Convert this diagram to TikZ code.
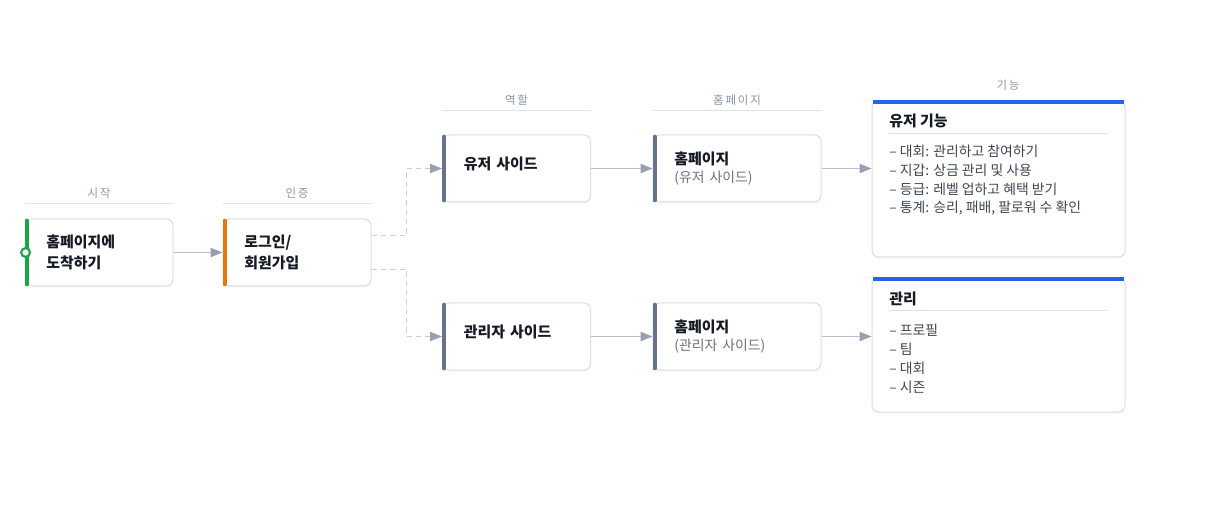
\documentclass[tikz,border=0pt]{standalone}
\usepackage{fontspec}
\setmainfont{Noto Sans CJK KR}
\newfontfamily\hdrfont{Noto Sans CJK KR}[LetterSpace=16]
\usetikzlibrary{arrows.meta,shadows}

\definecolor{startgreen}{HTML}{1FA34A}
\definecolor{loginorange}{HTML}{E07A0C}
\definecolor{rolegray}{HTML}{667389}
\definecolor{panelblue}{HTML}{2563EB}
\definecolor{boxline}{HTML}{D8DDE7}
\definecolor{linkgray}{HTML}{B9C0CC}
\definecolor{tipgray}{HTML}{97A0B0}
\definecolor{dashgray}{HTML}{C9CED8}
\definecolor{hdrtext}{HTML}{8C95A3}
\definecolor{hdrrule}{HTML}{E0E4EB}
\definecolor{titletext}{HTML}{151A24}
\definecolor{subtext}{HTML}{6B7280}
\definecolor{itemtext}{HTML}{3F4652}

\begin{document}
\begin{tikzpicture}[x=0.75pt,y=-0.75pt,
  box/.style={draw=boxline,fill=white,rounded corners=5pt,line width=0.75pt,
    minimum height=50.25pt,inner xsep=16pt,align=left,text=titletext,
    font=\fontsize{11.2}{15.75}\selectfont\bfseries,
    drop shadow={shadow xshift=0pt,shadow yshift=-1.2pt,opacity=0.06}},
  panel/.style={draw=boxline,fill=white,rounded corners=5pt,line width=0.75pt,
    minimum width=189.75pt,inner sep=0pt,
    drop shadow={shadow xshift=0pt,shadow yshift=-1.2pt,opacity=0.06}},
  accent/.style={line width=3pt,line cap=round},
  hdr/.style={text=hdrtext,font=\hdrfont\fontsize{8.6}{10}\selectfont,inner sep=1pt},
  hdrline/.style={draw=hdrrule,line width=0.75pt},
  ptitle/.style={anchor=west,inner sep=0pt,text=titletext,font=\fontsize{11.2}{12}\selectfont\bfseries},
  item/.style={anchor=west,inner sep=0pt,text=itemtext,font=\fontsize{10.4}{12}\selectfont},
  link/.style={draw=linkgray,line width=0.75pt,-{Triangle[length=9pt,width=7pt,color=tipgray]}},
  dashlink/.style={link,draw=dashgray,dash pattern=on 4pt off 3pt}]
  \useasboundingbox (0,0) rectangle (1222,506);

  % flow boxes
  \node[box,text width=79pt] (start) at (99,252.5) {홈페이지에\\도착하기};
  \node[box,text width=79pt] (login) at (297,252.5) {로그인/\\회원가입};
  \node[box,text width=79pt,text depth=7.5pt] (user) at (516.5,168.5) {유저 사이드};
  \node[box,text width=79pt,text depth=7.5pt] (admin) at (516.5,336.5) {관리자 사이드};
  \node[box,text width=94pt,font=\fontsize{11.2}{13.5}\selectfont] (userhome) at (737,168.5)
    {\textbf{홈페이지}\\{\color{subtext}\fontsize{10.4}{13.5}\selectfont(유저 사이드)}};
  \node[box,text width=94pt,font=\fontsize{11.2}{13.5}\selectfont] (adminhome) at (737,336.5)
    {\textbf{홈페이지}\\{\color{subtext}\fontsize{10.4}{13.5}\selectfont(관리자 사이드)}};

  % coloured left edges
  \foreach \b/\c in {start/startgreen,login/loginorange,user/rolegray,admin/rolegray,userhome/rolegray,adminhome/rolegray}
    \draw[accent,\c] ([shift={(1.5pt,-1.6pt)}]\b.north west) -- ([shift={(1.5pt,1.6pt)}]\b.south west);
  \node[circle,draw=startgreen,line width=1.6pt,fill=white,minimum size=6.6pt,inner sep=0pt] (startdot) at ([xshift=0.8pt]start.west) {};

  % column headers
  \foreach \b/\t/\s in {start/시작/11.25,login/인증/11.25,user/역할/18,userhome/홈페이지/18}
    \draw[hdrline] ([yshift=\s pt]\b.north west) -- ([yshift=\s pt]\b.north east)
      node[hdr,midway,above=2.5pt] (hdr-\b) {\t};
  \node[hdr] (hdr-func) at (1008,85) {기능};

  % feature panels
  \node[panel,minimum height=117pt] (ufunc) at (998.5,179) {};
  \node[panel,minimum height=100.5pt] (afunc) at (998.5,345) {};
  \foreach \p in {ufunc,afunc}
    \draw[accent,panelblue,line cap=butt,rounded corners=2pt] ([shift={(1pt,-1.5pt)}]\p.north west) -- ([shift={(-1pt,-1.5pt)}]\p.north east);

  \node[ptitle] (ufunc-title) at (889,121) {유저 기능};
  \draw[hdrline] (889,134) -- (1108,134);
  \foreach \t [count=\i] in {{– 대회: 관리하고 참여하기},{– 지갑: 상금 관리 및 사용},{– 등급: 레벨 업하고 혜택 받기},{– 통계: 승리, 패배, 팔로워 수 확인}}
    \node[item] (ufunc-\i) at (889,132+19*\i) {\t};

  \node[ptitle] (afunc-title) at (889,299) {관리};
  \draw[hdrline] (889,311) -- (1108,311);
  \foreach \t [count=\i] in {– 프로필,– 팀,– 대회,– 시즌}
    \node[item] (afunc-\i) at (889,311+19*\i) {\t};

  % connectors
  \draw[link] (start) -- (login);
  \draw[dashlink] ([yshift=12.4pt]login.east) -- ++(35,0) |- (user.west);
  \draw[dashlink] ([yshift=-12.4pt]login.east) -- ++(35,0) |- (admin.west);
  \draw[link] (user) -- (userhome);
  \draw[link] (admin) -- (adminhome);
  \draw[link] (userhome.east) -- (userhome.east -| ufunc.west);
  \draw[link] (adminhome.east) -- (adminhome.east -| afunc.west);
\end{tikzpicture}
\end{document}
